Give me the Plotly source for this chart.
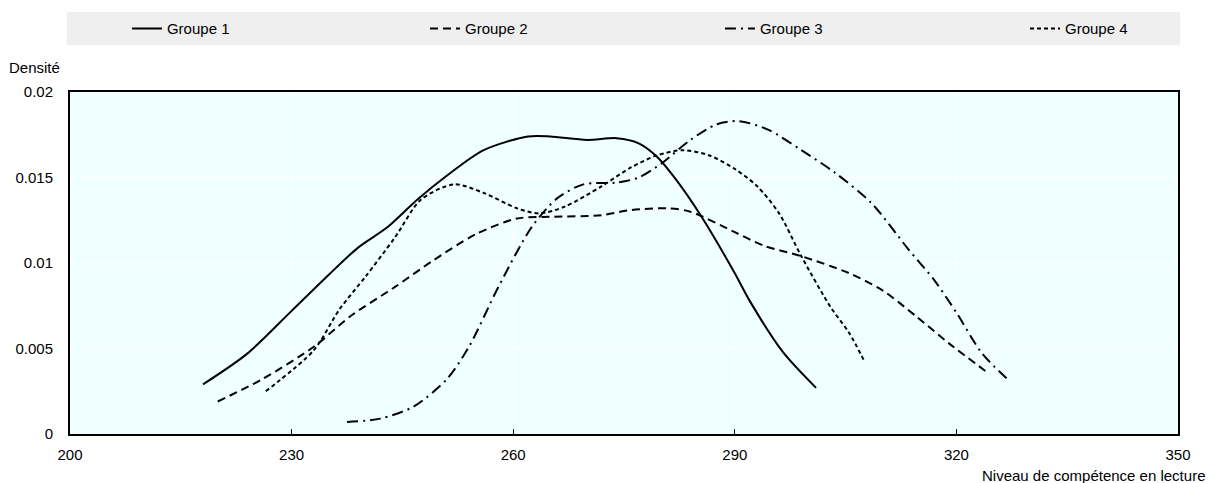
import plotly.graph_objects as go

# Reading-proficiency density curves for four groups
g1_x = [218, 224, 230, 235, 239, 243, 247, 251, 256, 262, 265, 270, 274, 277, 279.5, 282, 285.5, 290, 292, 296.5, 301]
g1_y = [0.0029, 0.0047, 0.0072, 0.0093, 0.0109, 0.0121, 0.0137, 0.0151, 0.0166, 0.0174, 0.0174, 0.0172, 0.0173,
        0.0170, 0.0162, 0.0149, 0.0127, 0.0094, 0.0078, 0.0048, 0.0027]

g2_x = [220, 226, 233, 238, 244, 249, 255, 260.5, 265, 272, 276, 281, 284, 290, 294, 299, 305.5, 310, 314.5, 319, 324.5]
g2_y = [0.0019, 0.0032, 0.0051, 0.0069, 0.0086, 0.0101, 0.0117, 0.0126, 0.0127, 0.0128, 0.0131, 0.0132, 0.0130,
        0.0118, 0.0110, 0.0104, 0.0094, 0.0084, 0.0069, 0.0053, 0.0035]

g3_x = [237.5, 242, 246.5, 251, 254, 258, 262.5, 266, 269.5, 274, 277, 280, 284, 287.5, 290.5, 294.5, 299, 303.5,
        308.5, 313.5, 317, 320, 323.5, 327.2]
g3_y = [0.0007, 0.0009, 0.0016, 0.0032, 0.0051, 0.0086, 0.0121, 0.0138, 0.0146, 0.0147, 0.0150, 0.0158, 0.0172,
        0.0181, 0.0183, 0.0178, 0.0166, 0.0153, 0.0135, 0.0108, 0.0090, 0.0071, 0.0047, 0.0031]

g4_x = [226.5, 233, 236.5, 240, 244, 247.5, 252, 256, 260.5, 263.5, 267, 272, 276, 279.5, 283, 286.5, 290, 293, 296,
        299, 303, 305.5, 307.6]
g4_y = [0.0025, 0.0049, 0.0073, 0.0092, 0.0115, 0.0137, 0.0146, 0.0141, 0.0132, 0.0129, 0.0133, 0.0145, 0.0156,
        0.0163, 0.0166, 0.0163, 0.0155, 0.0145, 0.0129, 0.0104, 0.0074, 0.0059, 0.0042]

names = ["Groupe 1", "Groupe 2", "Groupe 3", "Groupe 4"]
x_ticks = [200, 230, 260, 290, 320, 350]
y_ticks = [0, 0.005, 0.01, 0.015, 0.02]
y_tick_text = ["0", "0.005", "0.01", "0.015", "0.02"]

FONT = "Liberation Sans, Arial, sans-serif"
FS = 15

series = [
    (g1_x, g1_y, "solid"),
    (g2_x, g2_y, "8px,5px"),
    (g3_x, g3_y, "11px,5px,2px,5px"),
    (g4_x, g4_y, "4px,3px"),
]

# one legend box per group so the entries sit spread across the top band
legend_ids = ["legend", "legend2", "legend3", "legend4"]
legend_x = [0.0514, 0.3204, 0.5866, 0.8619]

fig = go.Figure()
for name, (xs, ys, dash), lid in zip(names, series, legend_ids):
    fig.add_trace(go.Scatter(
        x=xs, y=ys, name=name, mode="lines", legend=lid,
        line=dict(color="black", width=2, dash=dash, shape="spline", smoothing=0.8),
    ))

legend_layout = {}
for lid, lx in zip(legend_ids, legend_x):
    legend_layout[lid] = dict(
        orientation="h", x=lx, xanchor="left", y=1.185, yanchor="middle",
        bgcolor="rgba(0,0,0,0)", font=dict(family=FONT, size=FS, color="black"),
        itemwidth=30,
    )

fig.update_layout(
    width=1208, height=483,
    margin=dict(l=70, r=30, t=92, b=49),
    paper_bgcolor="white",
    plot_bgcolor="#F0FFFF",
    font=dict(family=FONT, size=FS, color="black"),
    showlegend=True,
    shapes=[dict(
        type="rect", xref="paper", yref="paper", layer="below",
        x0=-0.003, x1=1.002, y0=1.137, y1=1.234,
        fillcolor="#EFEFEF", line=dict(width=0),
    )],
    annotations=[
        dict(text="Densité", xref="paper", yref="paper", x=-0.007, y=1.073, xanchor="right",
             yanchor="middle", showarrow=False, font=dict(family=FONT, size=FS)),
        dict(text="Niveau de compétence en lecture", xref="paper", yref="paper", x=1.026, y=-0.12,
             xanchor="right", yanchor="middle", showarrow=False, font=dict(family=FONT, size=FS)),
    ],
    **legend_layout,
)

fig.update_xaxes(
    range=[200, 350], tickvals=x_ticks, ticktext=[str(v) for v in x_ticks],
    showgrid=True, gridcolor="white", gridwidth=1,
    showline=True, linecolor="black", linewidth=2, mirror=True,
    ticks="inside", ticklen=5, tickcolor="black", zeroline=False,
    ticklabelstandoff=6,
)
fig.update_yaxes(
    range=[0, 0.02], tickvals=y_ticks, ticktext=y_tick_text,
    showgrid=True, gridcolor="white", gridwidth=1,
    showline=True, linecolor="black", linewidth=2, mirror=True,
    ticks="", zeroline=False, ticklabelstandoff=12,
)

fig.write_html("out.html")
